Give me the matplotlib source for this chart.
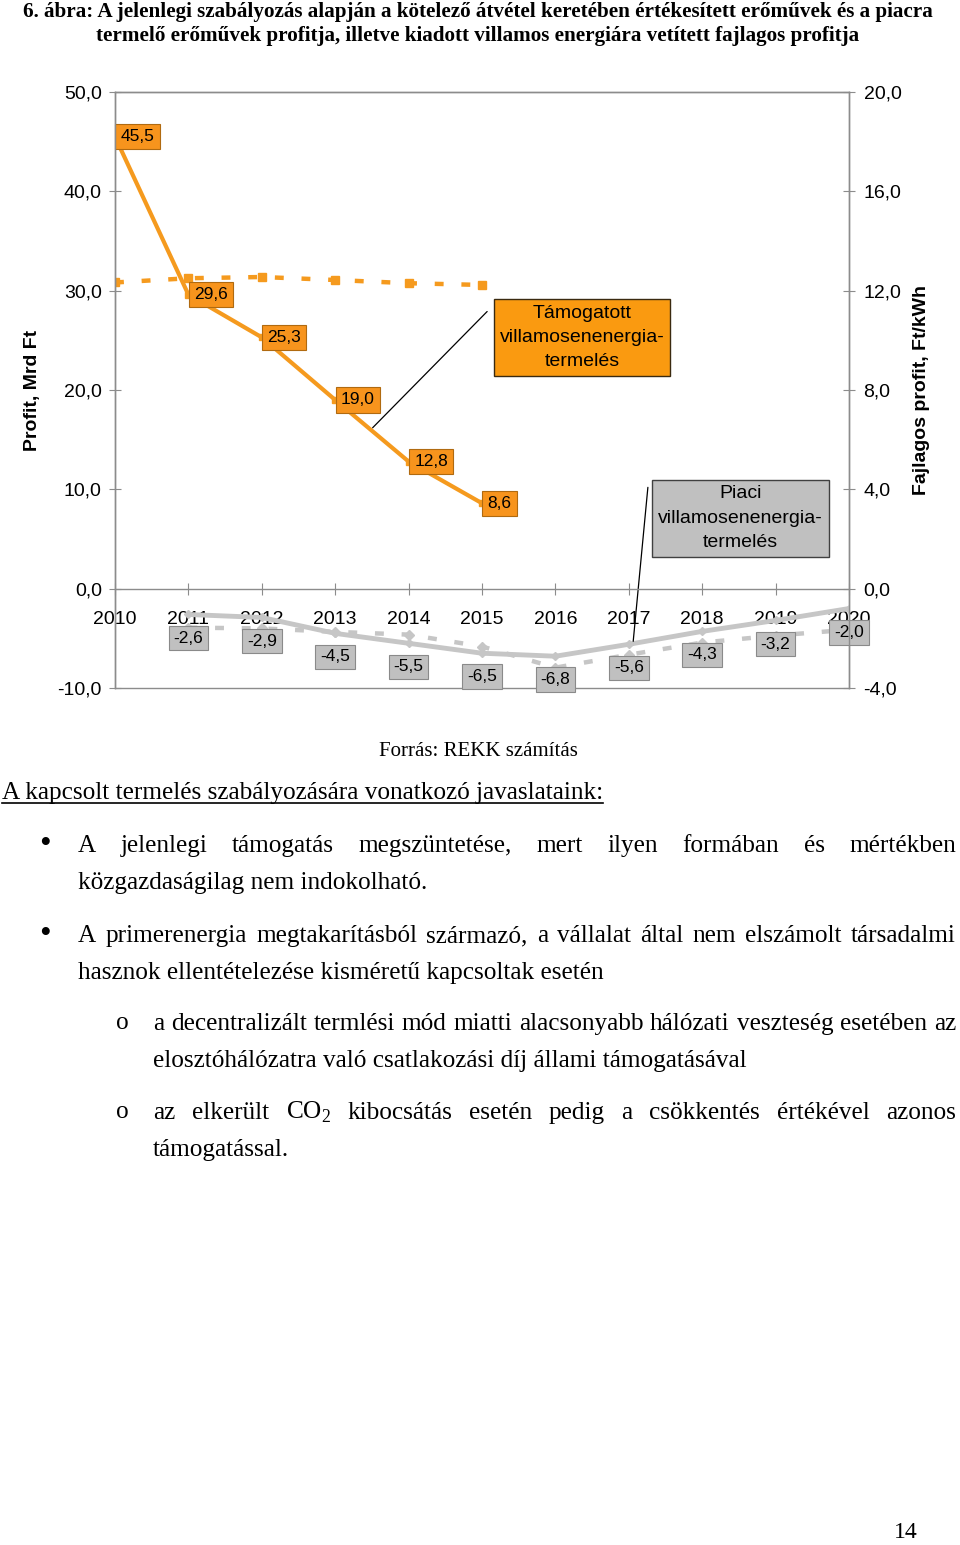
import matplotlib
matplotlib.use('Agg')
import matplotlib.pyplot as plt
import numpy as np
from matplotlib.lines import Line2D
from matplotlib.ticker import FuncFormatter

plt.rcParams['font.family'] = ['Liberation Sans', 'DejaVu Sans']
plt.rcParams['mathtext.fontset'] = 'custom'
plt.rcParams['mathtext.rm'] = 'Liberation Serif'

# --- data -----------------------------------------------------------------
years = list(range(2010, 2021))
tam_years = years[:6]
tam_profit = [45.5, 29.6, 25.3, 19.0, 12.8, 8.6]            # Mrd Ft
tam_fajl = [12.33, 12.5, 12.55, 12.43, 12.3, 12.23]         # Ft/kWh
piaci_years = years[1:]
piaci_profit = [-2.6, -2.9, -4.5, -5.5, -6.5, -6.8, -5.6, -4.3, -3.2, -2.0]
piaci_fajl = [-1.57, -1.6, -1.74, -1.85, -2.33, -3.18, -2.66, -2.17, -1.89, -1.65]
left_ticks = [-10, 0, 10, 20, 30, 40, 50]
right_ticks = [-4, 0, 4, 8, 12, 16, 20]

title_lines = [
    "6. ábra: A jelenlegi szabályozás alapján a kötelező átvétel keretében értékesített erőművek és a piacra",
    "termelő erőművek profitja, illetve kiadott villamos energiára vetített fajlagos profitja",
]
source = "Forrás: REKK számítás"
heading = "A kapcsolt termelés szabályozására vonatkozó javaslataink:"
bullet1 = ["A jelenlegi támogatás megszüntetése, mert ilyen formában és mértékben",
           "közgazdaságilag nem indokolható."]
bullet2 = ["A primerenergia megtakarításból származó, a vállalat által nem elszámolt társadalmi",
           "hasznok ellentételezése kisméretű kapcsoltak esetén"]
sub1 = ["a decentralizált termlési mód miatti alacsonyabb hálózati veszteség esetében az",
        "elosztóhálózatra való csatlakozási díj állami támogatásával"]
sub2 = ["az elkerült CO$_\\mathrm{2}$ kibocsátás esetén pedig a csökkentés értékével azonos",
        "támogatással."]

ORANGE = '#F59A1E'
ORANGE_BOX = '#F7941D'
GRAY = '#C6C6C6'
GRAY_BOX = '#C0C0C0'
AXIS = '#8C8C8C'
SERIF = 'Liberation Serif'

W, H = 960, 1545
fig = plt.figure(figsize=(W / 100, H / 100), dpi=100)


def fx(px):
    return px / W


def fy(py):
    return 1 - py / H


def comma(v, _=None):
    return f"{v:.1f}".replace('.', ',')


# --- chart ----------------------------------------------------------------
ax = fig.add_axes([fx(115), fy(688), (849 - 115) / W, (688 - 92) / H])
ax2 = ax.twinx()
# left axes on top, so its tick labels and data labels cover the dashed lines
ax.set_zorder(ax2.get_zorder() + 1)
ax.patch.set_visible(False)

ax.set_xlim(2010, 2020)
ax.set_ylim(-10, 50)
ax2.set_ylim(-4, 20)
ax.set_yticks(left_ticks)
ax2.set_yticks(right_ticks)
ax.yaxis.set_major_formatter(FuncFormatter(comma))
ax2.yaxis.set_major_formatter(FuncFormatter(comma))
ax.set_xticks(years)
ax.set_xticklabels([str(y) for y in years])

for a in (ax, ax2):
    for s in a.spines.values():
        s.set_color(AXIS)
        s.set_linewidth(1)
ax.spines['bottom'].set_position(('data', 0))
ax.tick_params(axis='x', direction='inout', length=8, color=AXIS, labelsize=14, pad=12)
ax.tick_params(axis='y', direction='inout', length=9, color=AXIS, labelsize=14, pad=5)
ax2.tick_params(axis='y', direction='inout', length=9, color=AXIS, labelsize=14, pad=6)

ax2.plot(tam_years, tam_fajl, color=ORANGE, lw=3.2, ls=(0, (2, 4)), marker='s', ms=6)
ax2.plot(piaci_years, piaci_fajl, color=GRAY, lw=3.2, ls=(0, (2, 4)), marker='D', ms=5)
ax.plot(tam_years, tam_profit, color=ORANGE, lw=3, marker='s', ms=5, zorder=2)
ax.plot(piaci_years, piaci_profit, color=GRAY, lw=3.5, marker='D', ms=4, zorder=2)

# data labels: above the lines, below the year tick labels
for x, v in zip(tam_years, tam_profit):
    ax.annotate(comma(v), xy=(x, v), xytext=(4, 0),
                textcoords='offset points', ha='left', va='center', fontsize=12.5,
                bbox=dict(boxstyle='square,pad=0.3', fc=ORANGE_BOX, ec='#B06A10', lw=0.8),
                zorder=2.2)
for x, v in zip(piaci_years, piaci_profit):
    ax.annotate(comma(v), xy=(x, v), xytext=(0, -17),
                textcoords='offset points', ha='center', va='center', fontsize=12.5,
                bbox=dict(boxstyle='square,pad=0.28', fc=GRAY_BOX, ec='#8A8A8A', lw=0.8),
                zorder=2.2)

# callout boxes with leader lines
ax.annotate('', xy=(2013.51, 16.2), xytext=(2015.07, 27.9),
            arrowprops=dict(arrowstyle='-', color='black', lw=0.9, shrinkA=0, shrinkB=0),
            zorder=2.3)
ax.annotate('', xy=(2017.06, -5.3), xytext=(2017.26, 10.2),
            arrowprops=dict(arrowstyle='-', color='black', lw=0.9, shrinkA=0, shrinkB=0),
            zorder=2.3)
ax.text(2016.36, 25.25, "Támogatott\nvillamosenenergia-\ntermelés",
        ha='center', va='center', fontsize=14, linespacing=1.55, zorder=2.3,
        bbox=dict(boxstyle='square,pad=0.3', fc='#FA9A10', ec='#3A2A10', lw=1))
ax.text(2018.52, 7.1, "Piaci\nvillamosenenergia-\ntermelés",
        ha='center', va='center', fontsize=14, linespacing=1.55, zorder=2.3,
        bbox=dict(boxstyle='square,pad=0.3', fc=GRAY_BOX, ec='#404040', lw=1))

fig.text(fx(33), fy(390), "Profit, Mrd Ft", rotation=90, fontsize=14,
         fontweight='bold', ha='center', va='center')
fig.text(fx(922), fy(390), "Fajlagos profit, Ft/kWh", rotation=90, fontsize=14,
         fontweight='bold', ha='center', va='center')

# --- page text ------------------------------------------------------------
for i, line in enumerate(title_lines):
    fig.text(fx(478), fy(12 + 24 * i), line, family=SERIF, fontweight='bold',
             fontsize=15.2, ha='center', va='center')

fig.text(fx(478), fy(752), source, family=SERIF, fontsize=15, ha='center', va='center')

renderer = fig.canvas.get_renderer()
BODY = 18.2

head = fig.text(fx(2), fy(799), heading, family=SERIF, fontsize=BODY, va='baseline')
hb = head.get_window_extent(renderer)
fig.add_artist(Line2D([hb.x0 / W, hb.x1 / W], [fy(803), fy(803)], color='black', lw=1.2,
                      transform=fig.transFigure))


def put_line(s, x0, x1, yb, justify):
    if not justify:
        fig.text(fx(x0), fy(yb), s, family=SERIF, fontsize=BODY, va='baseline')
        return
    words = s.split(' ')
    arts = [fig.text(0, fy(yb), w, family=SERIF, fontsize=BODY, va='baseline') for w in words]
    widths = [a.get_window_extent(renderer).width for a in arts]
    gap = (x1 - x0 - sum(widths)) / (len(words) - 1)
    x = x0
    for a, w in zip(arts, widths):
        a.set_x(fx(x))
        x += w + gap


def paragraph(lines, mark, mark_x, x0, y0, mark_size):
    fig.text(fx(mark_x), fy(y0), mark, family=SERIF, fontsize=mark_size,
             ha='center', va='center')
    put_line(lines[0], x0, 956, y0 + 7, True)
    put_line(lines[1], x0, 956, y0 + 44, False)


paragraph(bullet1, '•', 45, 78, 845, 24)
paragraph(bullet2, '•', 45, 78, 935, 24)
paragraph(sub1, 'o', 122, 153, 1023, BODY)
paragraph(sub2, 'o', 122, 153, 1112, BODY)

fig.text(fx(906), fy(1533), "14", family=SERIF, fontsize=17, ha='center', va='center')

fig.savefig('out.png', dpi=100)
